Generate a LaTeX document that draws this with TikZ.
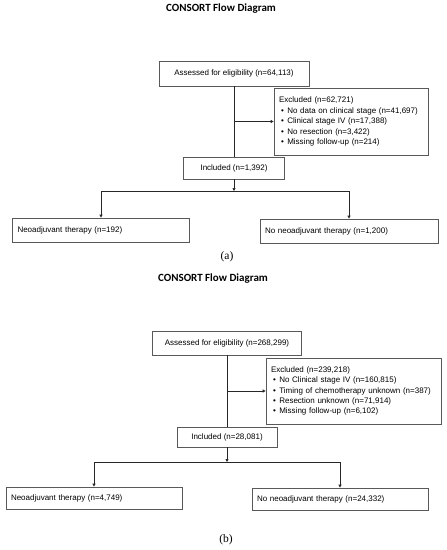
\documentclass[tikz,border=0pt]{standalone}
\usepackage{fontspec}
\setmainfont{Liberation Sans}
\newfontfamily\titlefont{Carlito}
\newfontfamily\capfont{Liberation Serif}
\usetikzlibrary{arrows.meta}
\begin{document}
\begin{tikzpicture}[x=1pt,y=-1pt,
  box/.style={draw=black!65, line width=0.7pt, inner sep=0pt, font=\fontsize{8}{10.5}\selectfont},
  line/.style={draw=black!85, line width=0.7pt},
  arr/.style={line, -{Triangle[length=3pt,width=3pt]}},
  ttl/.style={font=\titlefont\bfseries\fontsize{11}{13}\selectfont},
  captxt/.style={font=\capfont\fontsize{11.5}{13}\selectfont}]
\useasboundingbox (0,0) rectangle (447,550);
% ---------- (a) ----------
\node[ttl] (ta) at (221,9) {CONSORT Flow Diagram};
\node[box, minimum width=150, minimum height=25] (assa) at (234,73.5) {Assessed for eligibility (n=64,113)};
\node[box, minimum width=154, minimum height=67, text width=144, align=left] (exca) at (351,121.5)
  {Excluded (n=62,721)\\
   \hspace{2pt}\textbullet\hspace{3.5pt}No data on clinical stage (n=41,697)\\
   \hspace{2pt}\textbullet\hspace{3.5pt}Clinical stage IV (n=17,388)\\
   \hspace{2pt}\textbullet\hspace{3.5pt}No resection (n=3,422)\\
   \hspace{2pt}\textbullet\hspace{3.5pt}Missing follow-up (n=214)};
\node[box, minimum width=101, minimum height=22] (inca) at (234,168) {Included (n=1,392)};
\node[box, minimum width=177, minimum height=24, text width=167, align=left] (neoa) at (101,230) {Neoadjuvant therapy (n=192)};
\node[box, minimum width=178, minimum height=24, text width=168, align=left] (nona) at (349,231) {No neoadjuvant therapy (n=1,200)};
\node[captxt] (capa) at (227,257) {(a)};
\draw[line] (assa.south) -- (inca.north);
\draw[arr] (assa.south |- exca.west) -- (exca.west);
\coordinate (spa) at (234,191);
\draw[arr] (inca.south) -- (spa);
\draw[line] (neoa.north |- spa) -- (nona.north |- spa);
\draw[arr] (neoa.north |- spa) -- (neoa.north);
\draw[arr] (nona.north |- spa) -- (nona.north);
% ---------- (b) ----------
\node[ttl] (tb) at (213,279) {CONSORT Flow Diagram};
\node[box, minimum width=149, minimum height=24] (assb) at (227,343) {Assessed for eligibility (n=268,299)};
\node[box, minimum width=175, minimum height=66, text width=165, align=left, font=\fontsize{8}{10.25}\selectfont] (excb) at (353.5,391)
  {Excluded (n=239,218)\\
   \hspace{2pt}\textbullet\hspace{3.5pt}No Clinical stage IV (n=160,815)\\
   \hspace{2pt}\textbullet\hspace{3.5pt}Timing of chemotherapy unknown (n=387)\\
   \hspace{2pt}\textbullet\hspace{3.5pt}Resection unknown (n=71,914)\\
   \hspace{2pt}\textbullet\hspace{3.5pt}Missing follow-up (n=6,102)};
\node[box, minimum width=100, minimum height=20] (incb) at (227,437) {Included (n=28,081)};
\node[box, minimum width=176, minimum height=22, text width=166, align=left] (neob) at (94,498) {Neoadjuvant therapy (n=4,749)};
\node[box, minimum width=176, minimum height=22, text width=166, align=left] (nonb) at (340,499) {No neoadjuvant therapy (n=24,332)};
\node[captxt] (capb) at (226,540) {(b)};
\draw[line] (assb.south) -- (incb.north);
\draw[arr] (assb.south |- excb.west) -- (excb.west);
\coordinate (spb) at (227,462);
\draw[arr] (incb.south) -- (spb);
\draw[line] (neob.north |- spb) -- (nonb.north |- spb);
\draw[arr] (neob.north |- spb) -- (neob.north);
\draw[arr] (nonb.north |- spb) -- (nonb.north);
\end{tikzpicture}
\end{document}
